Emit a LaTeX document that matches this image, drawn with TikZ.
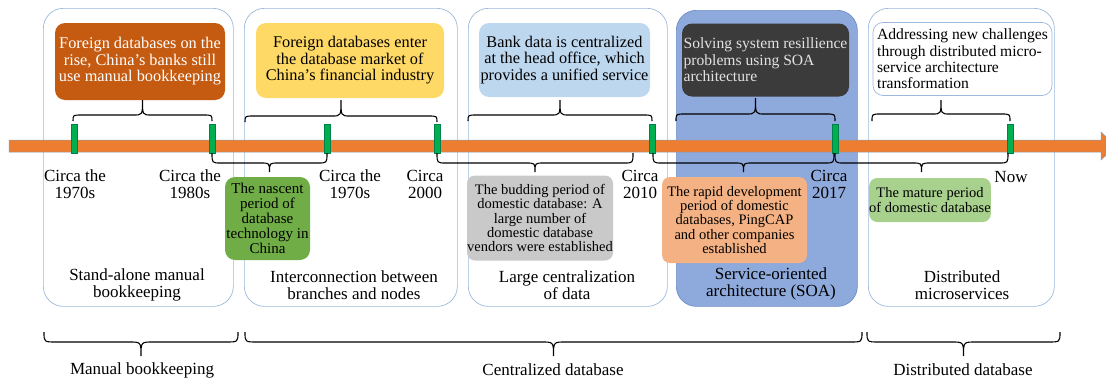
\documentclass[tikz,border=0pt]{standalone}
\usepackage{fontspec}
\setmainfont{Liberation Serif}
\definecolor{framecol}{HTML}{9DB9DD}
\definecolor{soafill}{HTML}{8EA9DB}
\definecolor{soadraw}{HTML}{6F8FC9}
\definecolor{barorange}{HTML}{ED7D31}
\definecolor{baredge}{HTML}{8A9DB5}
\definecolor{tickgreen}{HTML}{00B050}
\definecolor{tickdark}{HTML}{00804A}
\definecolor{brownbox}{HTML}{C55A11}
\definecolor{yellowbox}{HTML}{FFD966}
\definecolor{bluebox}{HTML}{BDD7EE}
\definecolor{darkbox}{HTML}{3B3B3B}
\definecolor{darktext}{HTML}{E2E2E2}
\definecolor{greenbox}{HTML}{70AD47}
\definecolor{graybox}{HTML}{C9C9C9}
\definecolor{peachbox}{HTML}{F4B183}
\definecolor{lightgreenbox}{HTML}{A9D18E}
\newcommand\fntbig{\fontsize{17}{17}\selectfont}
\newcommand\fnttop{\fontsize{16.3}{16.6}\selectfont}
\newcommand\fnttopl{\fontsize{15.6}{16.4}\selectfont}
\newcommand\fntlow{\fontsize{14.5}{14.4}\selectfont}
\newcommand\fntgreen{\fontsize{15}{15}\selectfont}
\newcommand\mybrace[6]{\draw[bracestyle] (#1,#3) .. controls (#1,#4) .. ({#1+#6},#4) -- ({(#1+#2)/2-#6},#4) .. controls ({(#1+#2)/2},#4) .. ({(#1+#2)/2},#5) .. controls ({(#1+#2)/2},#4) .. ({(#1+#2)/2+#6},#4) -- ({#2-#6},#4) .. controls (#2,#4) .. (#2,#3);}
\begin{document}
\begin{tikzpicture}[x=1pt,y=-1pt,
  frame/.style={draw=framecol, line width=0.7pt, rounded corners=20pt, inner sep=0pt, anchor=north west},
  topbox/.style={rounded corners=10pt, inner sep=0pt, align=center, font=\fnttop},
  lowbox/.style={rounded corners=8pt, inner sep=0pt, align=center, font=\fntlow},
  tick/.style={fill=tickgreen, draw=tickdark, line width=0.3pt, minimum width=6pt, minimum height=29pt, inner sep=0pt},
  lbl/.style={align=center, font=\fntbig, inner sep=0pt},
  bracestyle/.style={draw=black, line width=1.1pt},
  barstyle/.style={fill=barorange, draw=baredge, line width=0.5pt}]
\useasboundingbox (0,0) rectangle (1106,383);
\clip (0,0) rectangle (1106,383);
% era frames
\node[frame, minimum width=190pt, minimum height=298pt] (f1) at (43,8) {};
\node[frame, minimum width=213pt, minimum height=298pt] (f2) at (244,8) {};
\node[frame, minimum width=199pt, minimum height=298pt] (f3) at (468,8) {};
\node[frame, draw=soadraw, fill=soafill, minimum width=181pt, minimum height=296pt] (f4) at (676,10) {};
\node[frame, minimum width=186pt, minimum height=298pt] (f5) at (868,8) {};
% top boxes
\node[topbox, fill=brownbox, text=white, minimum width=170pt, minimum height=77pt] (b1) at (140,61.5) {Foreign databases on the\\rise, China’s banks still\\use manual bookkeeping};
\node[topbox, fill=yellowbox, minimum width=188pt, minimum height=75pt] (b2) at (350,60.5) {Foreign databases enter\\the database market of\\China’s financial industry};
\node[topbox, fill=bluebox, minimum width=171pt, minimum height=74pt] (b3) at (564.5,60) {Bank data is centralized\\at the head office, which\\provides a unified service};
\node[topbox, fill=darkbox, text=darktext, font=\fnttopl, align=left, minimum width=167pt, minimum height=73pt] (b4) at (765.5,60) {Solving system resillience\\problems using SOA\\architecture};
\node[topbox, fill=white, draw=framecol, line width=0.7pt, font=\fnttopl, align=left, minimum width=179pt, minimum height=73pt] (b5) at (962.5,59) {Addressing new challenges\\through distributed micro-\\service architecture\\transformation};
% lower boxes
\node[lowbox, fill=greenbox, font=\fntgreen, rounded corners=10pt, minimum width=85pt, minimum height=83pt] (g1) at (267.5,218.5) {The nascent\\period of\\database\\technology in\\China};
\node[lowbox, fill=graybox, minimum width=146pt, minimum height=85pt] (g2) at (540,218) {The budding period of\\domestic database: A\\large number of\\domestic database\\vendors were established};
\node[lowbox, fill=peachbox, minimum width=145pt, minimum height=86pt] (g3) at (734.5,220) {The rapid development\\period of domestic\\databases, PingCAP\\and other companies\\established};
\node[lowbox, fill=lightgreenbox, minimum width=120pt, minimum height=44pt] (g4) at (930,200) {The mature period\\of domestic database};
% timeline bar
\draw[barstyle] (9,140) -- (1101,140) -- (1101,132) -- (1116,146) -- (1101,160) -- (1101,152) -- (9,152) -- cycle;
% ticks
\node[tick] (t1) at (74,138.5) {};
\node[tick] (t2) at (212,138.5) {};
\node[tick] (t3) at (327,138.5) {};
\node[tick] (t4) at (437,138.5) {};
\node[tick] (t5) at (652,138.5) {};
\node[tick] (t6) at (835,138.5) {};
\node[tick] (t7) at (1010,138.5) {};
% braces above the bar
\mybrace{73}{212}{121}{115}{100}{9}
\mybrace{245}{437}{122}{116}{100}{9}
\mybrace{468}{652}{121}{115}{100}{9}
\mybrace{676}{835}{121}{114}{98}{9}
\mybrace{872}{1010}{121}{114}{100}{9}
% braces below the bar
\mybrace{212}{327}{153}{163}{172}{9}
\mybrace{437}{633}{153}{163}{172}{9}
\mybrace{653}{834}{153}{163}{172}{9}
\mybrace{835}{1008}{153}{163}{172}{9}
% big braces at the bottom
\mybrace{44}{238}{332}{342}{356}{12}
\mybrace{245}{862}{332}{342}{356}{12}
\mybrace{867}{1060}{332}{342}{356}{12}
% date labels
\node[lbl] (c1) at (75,184) {Circa the\\1970s};
\node[lbl] (c2) at (190,184) {Circa the\\1980s};
\node[lbl] (c3) at (350,184) {Circa the\\1970s};
\node[lbl] (c4) at (425,184) {Circa\\2000};
\node[lbl] (c5) at (640,184) {Circa\\2010};
\node[lbl] (c6) at (829,184) {Circa\\2017};
\node[lbl] (c7) at (1011,177) {Now};
% era labels
\node[lbl] (e1) at (137,285) {Stand-alone manual\\bookkeeping};
\node[lbl] (e2) at (354,285) {Interconnection between\\branches and nodes};
\node[lbl] (e3) at (567,285) {Large centralization\\of data};
\node[lbl] (e4) at (771,284) {Service-oriented\\architecture (SOA)};
\node[lbl] (e5) at (962,285) {Distributed\\microservices};
% phase labels
\node[lbl] (p1) at (142,370) {Manual bookkeeping};
\node[lbl] (p2) at (553,370) {Centralized database};
\node[lbl] (p3) at (963,370) {Distributed database};
\end{tikzpicture}
\end{document}
